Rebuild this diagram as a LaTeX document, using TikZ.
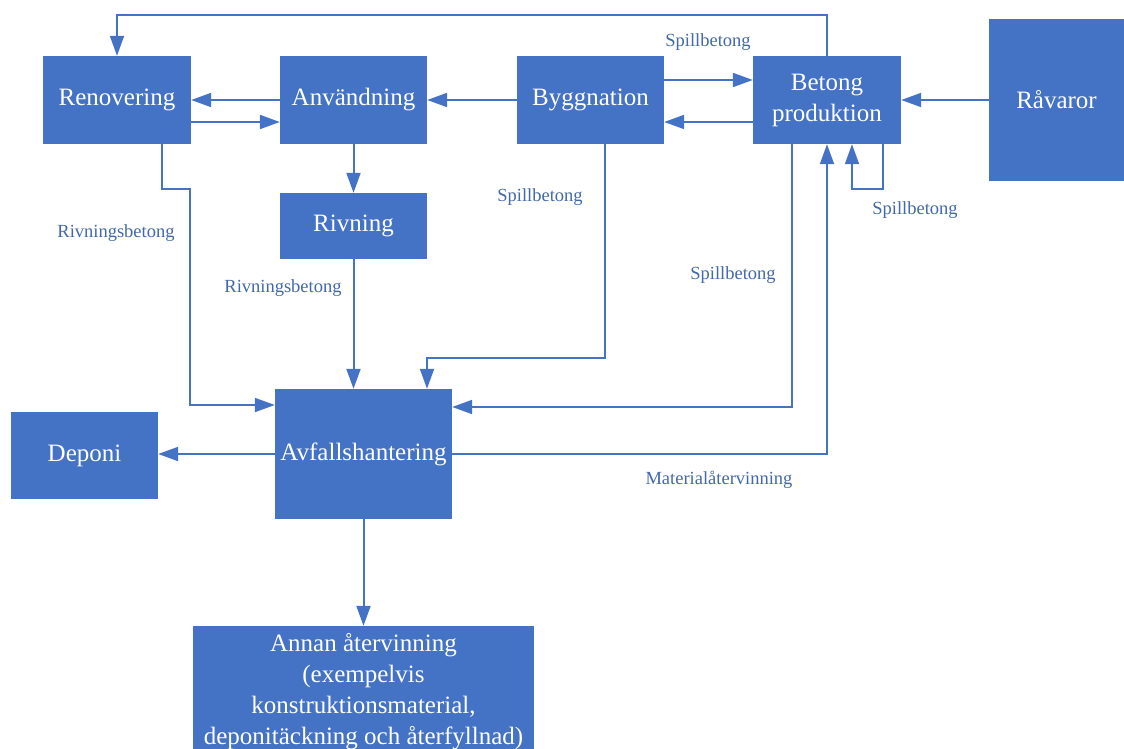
\documentclass[tikz,border=0pt]{standalone}
\usepackage{fontspec}
\setmainfont{Liberation Serif}
\usetikzlibrary{arrows.meta}
\definecolor{flow}{HTML}{4472C4}
\definecolor{lbltext}{HTML}{4169AA}
\begin{document}
\begin{tikzpicture}[x=1pt,y=-1pt,
  box/.style={fill=flow, text=white, inner sep=0pt, align=center,
              font=\fontsize{25}{31}\selectfont},
  arr/.style={draw=flow, line width=2pt, -{Triangle[length=20pt,width=14pt]}},
  lbl/.style={text=lbltext, inner sep=0pt, font=\fontsize{18.5}{21}\selectfont}]
\useasboundingbox (0,0) rectangle (1124,749);

% process boxes
\node[box, minimum width=148pt, minimum height=88pt] (ren)  at (117,100)   {Renovering};
\node[box, minimum width=147pt, minimum height=88pt] (anv)  at (353.5,100) {Användning};
\node[box, minimum width=147pt, minimum height=88pt] (bygg) at (590.5,100) {Byggnation};
\node[box, minimum width=148pt, minimum height=88pt] (bet)  at (827,100)   {Betong\\produktion};
\node[box, minimum width=135pt, minimum height=162pt] (rav) at (1056.5,100) {Råvaror};
\node[box, minimum width=147pt, minimum height=66pt] (riv)  at (353.5,226) {Rivning};
\node[box, minimum width=177pt, minimum height=130pt] (avf) at (363.5,454) {Avfallshantering};
\node[box, minimum width=147pt, minimum height=87pt] (dep)  at (84.5,455.5) {Deponi};
\node[box, minimum width=341pt, minimum height=132pt] (ann) at (363.5,692)
  {Annan återvinning\\(exempelvis\\konstruktionsmaterial,\\deponitäckning och återfyllnad)};

% bend points of the routed connectors
\coordinate (ytop) at (0,15);
\coordinate (r1) at (162,189);
\coordinate (r2) at (190,405);
\coordinate (b1) at (605,358);
\coordinate (b2) at (427,358);
\coordinate (s1) at (792,407);
\coordinate (l1) at (883,189);
\coordinate (l2) at (852,189);

% main flow along the top row
\draw[arr] (anv.west) -- (ren.east);
\draw[arr] ([yshift=-22pt]ren.east) -- ([yshift=-22pt]anv.west);
\draw[arr] (bygg.west) -- (anv.east);
\draw[arr] ([yshift=20pt]bygg.east) -- ([yshift=20pt]bet.west);
\draw[arr] ([yshift=-22pt]bet.west) -- ([yshift=-22pt]bygg.east);
\draw[arr] (rav.west) -- (bet.east);
\draw[arr] (bet.north) -- (bet.north |- ytop) -| (ren.north);

% flows towards waste handling
\draw[arr] (anv.south) -- (riv.north);
\draw[arr] (riv.south) -- (riv.south |- avf.north);
\draw[arr] (r1 |- ren.south) -- (r1) -| (r2) -- (r2 -| avf.west);
\draw[arr] (b1 |- bygg.south) -- (b1) -- (b2) -- (b2 |- avf.north);
\draw[arr] (s1 |- bet.south) -- (s1) -- (s1 -| avf.east);
\draw[arr] (l1 |- bet.south) -- (l1) -- (l2) -- (l2 |- bet.south);

% outputs of waste handling
\draw[arr] (avf.east) -| (bet.south);
\draw[arr] (avf.west) -- (avf.west -| dep.east);
\draw[arr] (avf.south) -- (ann.north);

% flow labels
\node[lbl] (t1) at (708,42)  {Spillbetong};
\node[lbl] (t2) at (116,233) {Rivningsbetong};
\node[lbl] (t3) at (540,197) {Spillbetong};
\node[lbl] (t4) at (915,210) {Spillbetong};
\node[lbl] (t5) at (283,288) {Rivningsbetong};
\node[lbl] (t6) at (733,275) {Spillbetong};
\node[lbl] (t7) at (719,480) {Materialåtervinning};
\end{tikzpicture}
\end{document}
